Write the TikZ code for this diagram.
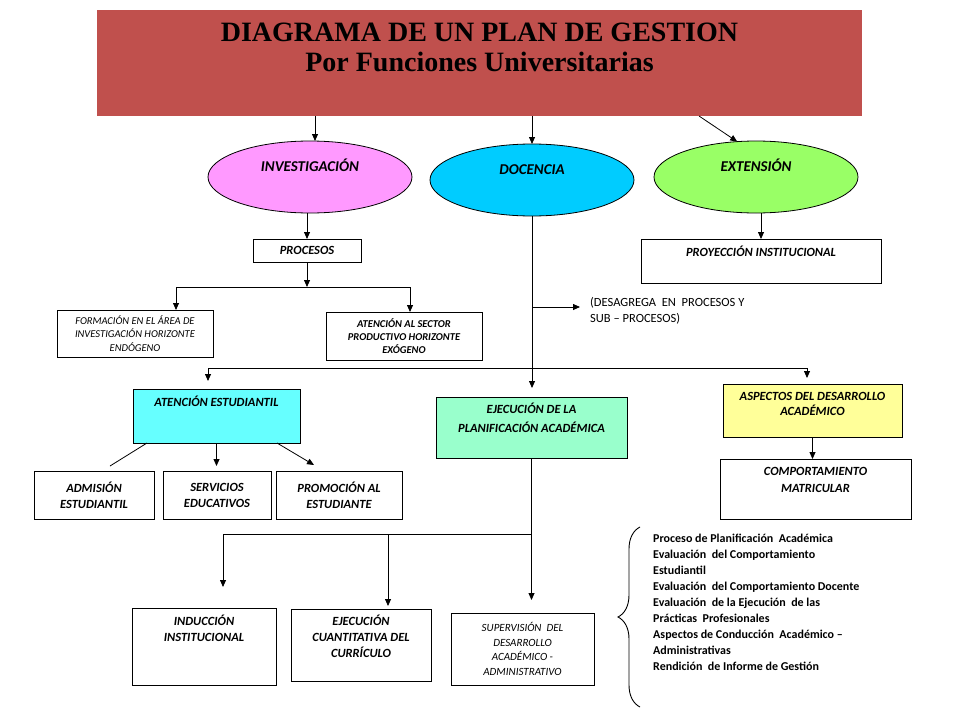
\documentclass[tikz,border=0pt]{standalone}
\usepackage{fontspec}
\setmainfont{Carlito}
\newfontfamily\titlefont{Liberation Serif}
\usetikzlibrary{shapes.geometric,arrows.meta,decorations.pathreplacing}

\definecolor{titlered}{HTML}{C0504D}
\definecolor{invpink}{HTML}{FF99FF}
\definecolor{docblue}{HTML}{00CCFF}
\definecolor{extgreen}{HTML}{99FF66}
\definecolor{atcyan}{HTML}{66FFFF}
\definecolor{ejmint}{HTML}{99FFCC}
\definecolor{aspyellow}{HTML}{FFFF99}

\tikzset{
    titlebox/.style = {
        rectangle,
        fill=titlered,
        minimum width=765pt,
        minimum height=106pt,
        inner sep=0pt,
        outer sep=0pt
    },
    titletext/.style = {
        anchor=north,
        align=center,
        inner sep=2pt,
        yshift=-11pt,
        font=\titlefont\bfseries\fontsize{28}{30}\selectfont
    },
    funcnode/.style = {
        ellipse,
        draw=black,
        line width=0.8pt,
        minimum width=204pt,
        minimum height=72pt,
        inner sep=0pt,
        outer sep=0pt,
        text depth=24pt,
        font=\bfseries\itshape\fontsize{15}{17}\selectfont
    },
    boxnode/.style = {
        rectangle,
        draw=black,
        line width=0.8pt,
        align=center,
        inner sep=2pt,
        outer sep=0pt,
        font=\bfseries\itshape\fontsize{12.5}{16}\selectfont
    },
    smallboxnode/.style = {
        boxnode,
        font=\itshape\fontsize{10.5}{13.3}\selectfont
    },
    smallboldnode/.style = {
        boxnode,
        font=\bfseries\itshape\fontsize{10.5}{13.3}\selectfont
    },
    toptext/.style = {
        anchor=north,
        align=center,
        inner sep=2pt,
        font=\bfseries\itshape\fontsize{12.5}{16}\selectfont
    },
    arr/.style = {
        -{Triangle[length=7pt,width=6pt]},
        line width=0.8pt
    },
    link/.style = {
        line width=0.8pt
    }
}

\begin{document}
\begin{tikzpicture}[x=1pt,y=-1pt]
    \useasboundingbox (0,0) rectangle (960,720);

    % title and the three functions
    \node [titlebox, label={[titletext]north:{DIAGRAMA DE UN PLAN DE GESTION\\Por Funciones Universitarias}}] (title) at (479.5,63) {};
    \node [funcnode, fill=invpink] (inv) at (310,177) {INVESTIGACIÓN};
    \node [funcnode, fill=docblue, text depth=20pt] (doc) at (532,180) {DOCENCIA};
    \node [funcnode, fill=extgreen] (ext) at (756,177) {EXTENSIÓN};

    % investigacion
    \node [boxnode, minimum width=108pt, minimum height=23pt] (proc) at (307,250.5) {PROCESOS};
    \node [smallboxnode, minimum width=156pt, minimum height=47pt] (form) at (135,333.5) {FORMACIÓN EN EL ÁREA DE\\INVESTIGACIÓN HORIZONTE\\ENDÓGENO};
    \node [smallboldnode, minimum width=156pt, minimum height=48pt] (sect) at (404,336) {ATENCIÓN AL SECTOR\\PRODUCTIVO HORIZONTE\\EXÓGENO};

    % extension
    \node [boxnode, minimum width=240pt, minimum height=44pt, label={[toptext, yshift=-4.5pt]north:PROYECCIÓN INSTITUCIONAL}] (proy) at (761,261) {};

    % docencia
    \node [anchor=north west, align=left, inner sep=0pt, font=\fontsize{12.5}{16}\selectfont] (desag) at (590,297) {(DESAGREGA~ EN~ PROCESOS Y\\SUB – PROCESOS)};
    \node [boxnode, fill=atcyan, minimum width=167pt, minimum height=54pt, label={[toptext, yshift=-4.5pt]north:ATENCIÓN ESTUDIANTIL}] (atest) at (216.5,416) {};
    \node [boxnode, fill=ejmint, minimum width=191pt, minimum height=61pt, label={[toptext, yshift=-3.5pt, font=\bfseries\itshape\fontsize{12.5}{19}\selectfont]north:{EJECUCIÓN DE LA\\PLANIFICACIÓN ACADÉMICA}}] (ejec) at (531.5,427.5) {};
    \node [boxnode, fill=aspyellow, minimum width=179pt, minimum height=53pt, label={[toptext, yshift=-6pt, font=\bfseries\itshape\fontsize{12.5}{15}\selectfont]north:{ASPECTOS DEL DESARROLLO\\ACADÉMICO}}] (aspect) at (812.5,410.5) {};
    \node [boxnode, minimum width=191pt, minimum height=60pt, label={[toptext, yshift=-6pt, font=\bfseries\itshape\fontsize{12.5}{17}\selectfont]north:{COMPORTAMIENTO\\MATRICULAR}}] (comp) at (815.5,489) {};

    \node [boxnode, minimum width=120pt, minimum height=48pt] (adm) at (94,495) {ADMISIÓN\\ESTUDIANTIL};
    \node [boxnode, minimum width=108pt, minimum height=48pt] (serv) at (217,495) {SERVICIOS\\EDUCATIVOS};
    \node [boxnode, minimum width=126pt, minimum height=48pt] (prom) at (339,495) {PROMOCIÓN AL\\ESTUDIANTE};

    \node [boxnode, minimum width=144pt, minimum height=77pt, label={[toptext, yshift=-4.5pt]north:{INDUCCIÓN\\INSTITUCIONAL}}] (induc) at (204,646.5) {};
    \node [boxnode, minimum width=140pt, minimum height=72pt, label={[toptext, yshift=-3.5pt]north:{EJECUCIÓN\\CUANTITATIVA DEL\\CURRÍCULO}}] (ejcu) at (361,645) {};
    \node [smallboxnode, font=\itshape\fontsize{11}{14.5}\selectfont, minimum width=143pt, minimum height=72pt] (super) at (522.5,649) {SUPERVISIÓN~ DEL\\DESARROLLO\\ACADÉMICO -\\ADMINISTRATIVO};

    \node [anchor=north west, align=left, inner sep=0pt, font=\bfseries\fontsize{12}{16}\selectfont] (plan) at (653,534) {Proceso de Planificación~ Académica\\Evaluación~ del Comportamiento\\Estudiantil\\Evaluación~ del Comportamiento Docente\\Evaluación~ de la Ejecución~ de las\\Prácticas~ Profesionales\\Aspectos de Conducción~ Académico –\\Administrativas\\Rendición~ de Informe de Gestión};
    \draw [line width=0.9pt, decorate, decoration={brace, amplitude=22pt}] (640,707) -- (640,527);

    % connectors
    \coordinate (procsplit) at (307,287);
    \coordinate (desagpt) at (580,307);
    \coordinate (docsplit) at (532,368);
    \coordinate (ejecsplit) at (531.5,534);

    \draw [arr] ([xshift=5pt]title.south -| inv.north) -- ([xshift=5pt]inv.north);
    \draw [arr] (title.south -| doc.north) -- (doc.north);
    \draw [arr] ([xshift=219.5pt]title.south) -- (ext.118);

    \draw [arr] (inv.south -| proc.north) -- (proc.north);
    \draw [arr] (proc.south) -- (procsplit);
    \draw [arr] (procsplit) -| ([xshift=41pt]form.north);
    \draw [arr] (procsplit) -| ([xshift=6pt]sect.north);

    \draw [arr] (ext.south -| proy.north) -- (proy.north);

    \draw [arr] (doc.south) -- ([yshift=9pt]doc.south |- ejec.north);
    \draw [arr] (doc.south |- desagpt) -- (desagpt);
    \draw [arr] (docsplit) -| ([xshift=-8.5pt,yshift=8pt]atest.north);
    \draw [arr] (docsplit) -| ([xshift=-5.5pt,yshift=6pt]aspect.north);
    \draw [arr] (aspect.south) -- (aspect.south |- comp.north);

    \draw [link] ([xshift=-69.5pt]atest.south) -- ([xshift=16pt,yshift=5pt]adm.north);
    \draw [arr] (atest.south) -- ([yshift=5pt]atest.south |- serv.north);
    \draw [arr] ([xshift=60.5pt]atest.south) -- ([xshift=-25pt,yshift=6pt]prom.north);

    \draw [arr] (ejec.south) -- ([yshift=13pt]ejec.south |- super.north);
    \draw [arr] (ejecsplit) -| ([xshift=19pt,yshift=21pt]induc.north);
    \draw [arr] (ejecsplit) -| ([xshift=27pt,yshift=3pt]ejcu.north);
\end{tikzpicture}
\end{document}
